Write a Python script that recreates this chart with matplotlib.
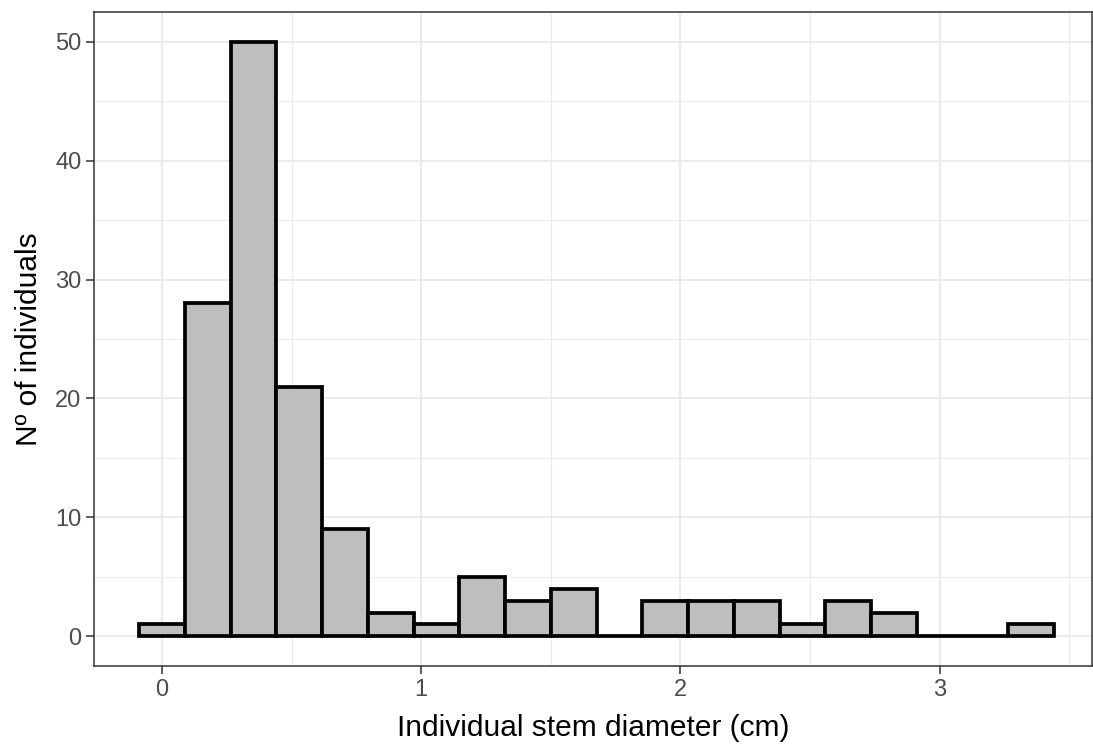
import numpy as np
import matplotlib.pyplot as plt
from matplotlib.ticker import MultipleLocator

# histogram bins (centres start at 0, width ~0.1765 cm)
bin_width = 0.1765
first_center = 0.0
counts = [1, 28, 50, 21, 9, 2, 1, 5, 3, 4, 0, 3, 3, 3, 1, 3, 2, 0, 0, 1]

centers = first_center + bin_width * np.arange(len(counts))

plt.rcParams['font.family'] = ['Liberation Sans', 'DejaVu Sans']

fig = plt.figure(figsize=(10.93, 7.45), dpi=100)
ax = fig.add_axes([0.086, 0.106, 0.913, 0.878])

ax.bar(centers, counts, width=bin_width, color='#BEBEBE', edgecolor='black',
       linewidth=2.7, zorder=3)

ax.set_xlim(-0.262, 3.587)
ax.set_ylim(-2.5, 52.5)

ax.xaxis.set_major_locator(MultipleLocator(1))
ax.xaxis.set_minor_locator(MultipleLocator(0.5))
ax.yaxis.set_major_locator(MultipleLocator(10))
ax.yaxis.set_minor_locator(MultipleLocator(5))

ax.grid(which='major', color='#EBEBEB', linewidth=1.5, zorder=0)
ax.grid(which='minor', color='#EBEBEB', linewidth=0.8, zorder=0)
ax.set_axisbelow(True)

for s in ax.spines.values():
    s.set_color('#333333')
    s.set_linewidth(1.1)

ax.tick_params(which='major', length=5.5, width=1.1, color='#333333',
               labelcolor='#4D4D4D', labelsize=17, pad=3.5)
ax.tick_params(which='minor', length=0)

ax.set_xlabel('Individual stem diameter (cm)', fontsize=21.5, labelpad=10)
ax.set_ylabel('Nº of individuals', fontsize=21.5, labelpad=9)

fig.savefig('out.png', dpi=100)
